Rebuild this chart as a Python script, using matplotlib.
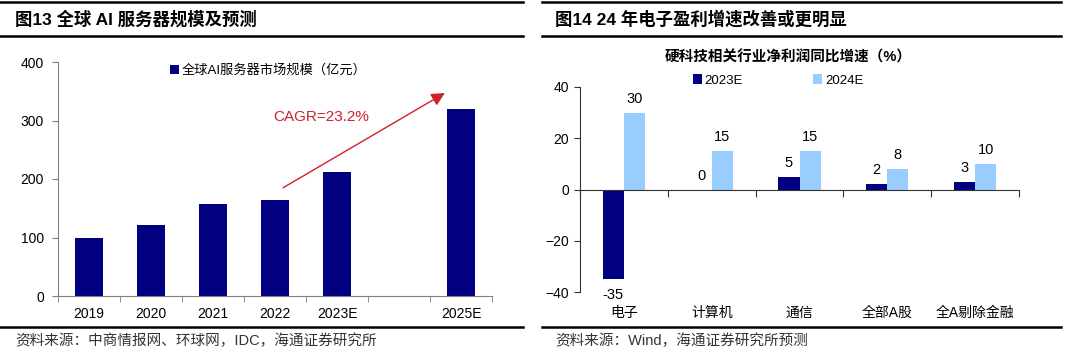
import matplotlib
matplotlib.use("Agg")
import matplotlib.pyplot as plt
import numpy as np
from matplotlib.lines import Line2D

plt.rcParams['font.family'] = ['Liberation Sans', 'Noto Sans CJK SC', 'DejaVu Sans']

# ---------------- data ----------------
left_years = ["2019", "2020", "2021", "2022", "2023E", "", "2025E"]
left_values = [100, 122, 157, 164, 212, np.nan, 319]
left_series = "全球AI服务器市场规模（亿元）"
cagr_text = "CAGR=23.2%"

right_cats = ["电子", "计算机", "通信", "全部A股", "全A剔除金融"]
right_2023 = [-35, 0, 5, 2, 3]
right_2024 = [30, 15, 15, 8, 10]
right_series = ["2023E", "2024E"]
right_title = "硬科技相关行业净利润同比增速（%）"

title_left = "图13 全球 AI 服务器规模及预测"
title_right = "图14 24 年电子盈利增速改善或更明显"
source_left = "资料来源：中商情报网、环球网，IDC，海通证券研究所"
source_right = "资料来源：Wind，海通证券研究所预测"

NAVY = "#000080"
LIGHT = "#99CCFF"
RED = "#D0202A"

W, H = 1080, 358
fig = plt.figure(figsize=(W / 100, H / 100), dpi=100)

def fx(x):
    return x / W

def fy(y):
    return 1 - y / H

# frame lines
for (x0, x1) in [(0, 523), (542, 1061)]:
    fig.add_artist(Line2D([fx(x0), fx(x1)], [fy(2), fy(2)], color="black", lw=1.8))
    fig.add_artist(Line2D([fx(x0), fx(x1)], [fy(36), fy(36)], color="black", lw=1.8))
    fig.add_artist(Line2D([fx(x0), fx(x1)], [fy(327), fy(327)], color="black", lw=1.8))

fig.text(fx(15), fy(19), title_left, fontsize=12.5, fontweight="bold", va="center", ha="left")
fig.text(fx(555), fy(19), title_right, fontsize=12.5, fontweight="bold", va="center", ha="left")
fig.text(fx(15), fy(341), source_left, fontsize=10.5, va="center", ha="left", color="#333333")
fig.text(fx(555), fy(341), source_right, fontsize=10.5, va="center", ha="left", color="#333333")

# ---------------- left chart ----------------
axL = fig.add_axes([fx(58), fy(296), fx(492) - fx(58), fy(62) - fy(296)])
xL = np.arange(len(left_years))
axL.bar(xL, left_values, width=0.45, color=NAVY, label=left_series)
axL.set_xlim(-0.5, len(left_years) - 0.5)
axL.set_ylim(0, 400)
axL.set_yticks([0, 100, 200, 300, 400])
axL.set_xticks(xL)
axL.set_xticklabels(left_years, fontsize=10)
axL.tick_params(axis="x", length=0, pad=8)
axL.set_xticks(np.arange(-0.5, len(left_years)), minor=True)
axL.tick_params(axis="x", which="minor", length=4, direction="out", color="#808080")
axL.tick_params(axis="y", length=4, direction="out", color="#808080", labelsize=10, pad=6)
for s in ["top", "right"]:
    axL.spines[s].set_visible(False)
for s in ["left", "bottom"]:
    axL.spines[s].set_color("#808080")
axL.legend(loc="upper left", bbox_to_anchor=(0.23, 1.04), frameon=False, fontsize=9.5,
           handlelength=0.7, handleheight=0.7, handletextpad=0.2)
axL.annotate("", xy=(5.74, 347), xytext=(3.13, 185),
             arrowprops=dict(arrowstyle="-|>", color=RED, lw=1.0, mutation_scale=20,
                             shrinkA=0, shrinkB=0))
axL.text(3.75, 306, cagr_text, color=RED, fontsize=11, ha="center", va="center")

# ---------------- right chart ----------------
axR = fig.add_axes([fx(580), fy(292), fx(1019) - fx(580), fy(87) - fy(292)])
xR = np.arange(len(right_cats))
bw = 0.24
b1 = axR.bar(xR - bw / 2, right_2023, width=bw, color=NAVY, label=right_series[0])
b2 = axR.bar(xR + bw / 2, right_2024, width=bw, color=LIGHT, label=right_series[1])
axR.set_xlim(-0.5, len(right_cats) - 0.5)
axR.set_ylim(-40, 40)
axR.set_yticks([-40, -20, 0, 20, 40])
axR.tick_params(axis="y", length=4, direction="out", color="#333333", labelsize=10, pad=4)
axR.spines["bottom"].set_position(("data", 0))
axR.set_xticks(np.arange(-0.5, len(right_cats)))
axR.set_xticklabels([])
axR.tick_params(axis="x", length=5, direction="out", color="#333333")
for s in ["top", "right"]:
    axR.spines[s].set_visible(False)
for s in ["left", "bottom"]:
    axR.spines[s].set_color("#333333")
for i, c in enumerate(right_cats):
    axR.text(xR[i], -0.1, c, transform=axR.get_xaxis_transform(), ha="center",
             va="center", fontsize=10)
for bars, vals in [(b1, right_2023), (b2, right_2024)]:
    for rect, v in zip(bars, vals):
        cx = rect.get_x() + rect.get_width() / 2
        if v >= 0:
            axR.annotate(f"{v}", (cx, v), xytext=(0, 5), textcoords="offset points",
                         ha="center", va="bottom", fontsize=10.5)
        else:
            axR.annotate(f"{v}", (cx, v), xytext=(0, -6), textcoords="offset points",
                         ha="center", va="top", fontsize=10.5)
axR.legend(loc="upper left", bbox_to_anchor=(0.23, 1.12), ncol=2, frameon=False,
           fontsize=9.5, handlelength=0.7, handleheight=0.7, handletextpad=0.2,
           columnspacing=5.3)
fig.text(fx(788), fy(57), right_title, fontsize=10.5, fontweight="bold",
         ha="center", va="center")

fig.savefig("out.png", dpi=100)
